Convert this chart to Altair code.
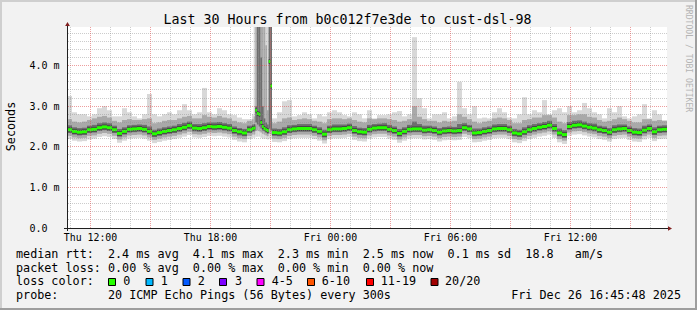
import altair as alt
import pandas as pd

# ---------------- data ----------------
START = "2025-12-25T10:51:00"   # left edge of the plot (Thu)

# bin lengths in minutes: 15-minute bins, with 5-minute bins around the spike
bin_minutes = [15] * 37 + [5] * 12 + [15] * 79

# median rtt per bin (ms)
median = [
    2.42, 2.38, 2.36, 2.37, 2.42, 2.43, 2.47, 2.49, 2.47, 2.42, 2.33, 2.38, 2.43, 2.44, 2.45, 2.43, 2.38, 2.32, 2.35, 2.38, 2.40, 2.42, 2.45, 2.48,
    2.52, 2.46, 2.45, 2.47, 2.50, 2.49, 2.50, 2.48, 2.46, 2.40, 2.37, 2.34, 2.42,
    2.45, 2.46, 2.90, 2.82, 2.80, 2.60, 2.50, 2.45, 2.42, 2.40, 4.10, 3.50,
    2.35, 2.34, 2.37, 2.42, 2.44, 2.45, 2.45,
    2.45, 2.42, 2.38, 2.31, 2.42, 2.44, 2.44, 2.45, 2.47, 2.40, 2.37, 2.36, 2.43, 2.46, 2.47, 2.47, 2.43, 2.40, 2.33, 2.38, 2.43, 2.44, 2.44, 2.41,
    2.42, 2.40, 2.36, 2.39, 2.40, 2.39, 2.40, 2.47, 2.44, 2.34, 2.35, 2.38, 2.40, 2.44, 2.45, 2.45, 2.42, 2.34, 2.32, 2.37, 2.42, 2.45, 2.48, 2.50,
    2.53, 2.45, 2.34, 2.30, 2.50, 2.53, 2.54, 2.51, 2.48, 2.46, 2.42, 2.40, 2.36, 2.42, 2.44, 2.45, 2.40, 2.36, 2.35, 2.41, 2.45, 2.37, 2.42, 2.43,
]
# smoke: highest ping per bin
smoke_max = [
    3.25, 2.85, 2.80, 2.80, 2.75, 2.80, 2.95, 3.00, 2.90, 2.75, 2.75, 2.95, 2.85, 2.75, 2.70, 2.80, 3.30, 2.80, 2.75, 2.80, 2.85, 2.80, 2.90, 3.05,
    2.90, 2.80, 2.85, 3.45, 2.85, 2.80, 2.95, 2.90, 2.80, 2.78, 2.72, 2.68, 2.68,
    2.80, 6.00, 6.00, 6.00, 6.00, 6.00, 6.00, 6.00, 6.00, 6.00, 6.00, 6.00,
    2.70, 2.85, 3.12, 3.15, 2.75, 2.78, 2.85,
    2.80, 2.70, 2.80, 2.75, 2.85, 2.90, 2.85, 2.78, 2.75, 2.85, 2.80, 2.70, 2.90, 2.70, 2.78, 2.78, 2.80, 2.85, 2.88, 2.75, 2.80, 4.70, 3.20, 2.95,
    2.70, 2.80, 2.80, 2.85, 2.70, 2.75, 3.60, 2.95, 2.80, 3.00, 2.70, 2.72, 2.70, 2.85, 2.95, 2.85, 2.72, 2.70, 2.80, 3.22, 2.80, 2.90, 2.85, 3.15,
    2.80, 2.90, 2.95, 2.85, 3.00, 2.85, 2.90, 3.08, 2.95, 2.85, 2.80, 2.70, 2.95, 2.85, 3.00, 2.75, 2.70, 2.75, 2.80, 3.05, 2.70, 2.90, 2.80, 2.65,
]
# upper edge of the middle smoke band
smoke_hi2 = [
    2.68, 2.62, 2.60, 2.62, 2.66, 2.70, 2.74, 2.76, 2.72, 2.64, 2.60, 2.66, 2.68, 2.66, 2.66, 2.68, 2.70, 2.58, 2.60, 2.64, 2.66, 2.66, 2.70, 2.74,
    2.76, 2.70, 2.70, 2.78, 2.74, 2.72, 2.76, 2.72, 2.70, 2.64, 2.60, 2.58, 2.64,
    2.68, 2.75, 6.00, 6.00, 6.00, 6.00, 6.00, 6.00, 4.50, 2.90, 6.00, 6.00,
    2.58, 2.62, 2.70, 2.72, 2.66, 2.68, 2.70,
    2.68, 2.64, 2.62, 2.58, 2.68, 2.70, 2.70, 2.68, 2.70, 2.66, 2.62, 2.60, 2.70, 2.68, 2.70, 2.70, 2.68, 2.66, 2.62, 2.64, 2.68, 3.00, 2.74, 2.68,
    2.64, 2.64, 2.60, 2.64, 2.62, 2.64, 2.80, 2.74, 2.68, 2.62, 2.58, 2.62, 2.64, 2.70, 2.72, 2.70, 2.66, 2.58, 2.58, 2.66, 2.68, 2.72, 2.72, 2.78,
    2.78, 2.72, 2.62, 2.58, 2.78, 2.78, 2.80, 2.80, 2.74, 2.72, 2.66, 2.62, 2.64, 2.68, 2.72, 2.68, 2.64, 2.60, 2.60, 2.68, 2.68, 2.64, 2.66, 2.64,
]
# upper edge of the dark inner smoke band
smoke_hi3 = [
    2.53, 2.48, 2.46, 2.47, 2.52, 2.54, 2.58, 2.60, 2.58, 2.52, 2.44, 2.48, 2.53, 2.54, 2.55, 2.54, 2.50, 2.42, 2.45, 2.48, 2.50, 2.52, 2.56, 2.59,
    2.62, 2.56, 2.56, 2.58, 2.60, 2.60, 2.61, 2.58, 2.56, 2.50, 2.46, 2.44, 2.52,
    2.55, 2.56, 3.00, 6.00, 6.00, 4.20, 3.00, 2.70, 2.60, 2.55, 6.00, 5.00,
    2.45, 2.44, 2.48, 2.53, 2.54, 2.56, 2.56,
    2.56, 2.52, 2.48, 2.42, 2.52, 2.55, 2.55, 2.55, 2.57, 2.51, 2.47, 2.46, 2.54, 2.56, 2.57, 2.58, 2.54, 2.50, 2.44, 2.48, 2.54, 2.62, 2.56, 2.52,
    2.52, 2.50, 2.46, 2.49, 2.50, 2.49, 2.56, 2.58, 2.54, 2.45, 2.45, 2.48, 2.50, 2.55, 2.56, 2.56, 2.52, 2.44, 2.42, 2.48, 2.53, 2.56, 2.58, 2.61,
    2.64, 2.56, 2.45, 2.41, 2.61, 2.64, 2.65, 2.62, 2.58, 2.57, 2.52, 2.50, 2.46, 2.53, 2.55, 2.55, 2.50, 2.46, 2.45, 2.52, 2.55, 2.48, 2.52, 2.53,
]
# lower edge of the dark inner smoke band
smoke_lo3 = [
    2.34, 2.30, 2.28, 2.29, 2.34, 2.35, 2.39, 2.41, 2.39, 2.34, 2.25, 2.30, 2.35, 2.36, 2.37, 2.35, 2.30, 2.24, 2.27, 2.30, 2.32, 2.34, 2.37, 2.40,
    2.44, 2.38, 2.37, 2.39, 2.42, 2.41, 2.42, 2.40, 2.38, 2.32, 2.28, 2.26, 2.34,
    2.37, 2.38, 2.60, 2.55, 2.50, 2.45, 2.40, 2.38, 2.35, 2.32, 2.45, 2.40,
    2.27, 2.26, 2.29, 2.34, 2.36, 2.37, 2.37,
    2.37, 2.34, 2.30, 2.23, 2.34, 2.36, 2.36, 2.37, 2.39, 2.32, 2.29, 2.28, 2.35, 2.38, 2.39, 2.39, 2.35, 2.32, 2.25, 2.30, 2.35, 2.36, 2.36, 2.33,
    2.34, 2.32, 2.28, 2.31, 2.32, 2.31, 2.32, 2.39, 2.36, 2.26, 2.27, 2.30, 2.32, 2.36, 2.37, 2.37, 2.34, 2.26, 2.24, 2.29, 2.34, 2.37, 2.40, 2.42,
    2.45, 2.37, 2.26, 2.22, 2.42, 2.45, 2.46, 2.43, 2.40, 2.38, 2.34, 2.32, 2.28, 2.34, 2.36, 2.37, 2.32, 2.28, 2.27, 2.33, 2.37, 2.29, 2.34, 2.35,
]
# lower edge of the middle smoke band
smoke_lo2 = [
    2.27, 2.23, 2.21, 2.22, 2.27, 2.28, 2.32, 2.34, 2.32, 2.27, 2.18, 2.23, 2.28, 2.29, 2.30, 2.28, 2.23, 2.17, 2.20, 2.23, 2.25, 2.27, 2.30, 2.33,
    2.37, 2.31, 2.30, 2.32, 2.35, 2.34, 2.35, 2.33, 2.31, 2.25, 2.21, 2.19, 2.27,
    2.30, 2.30, 2.40, 2.40, 2.38, 2.35, 2.32, 2.30, 2.28, 2.26, 2.32, 2.30,
    2.20, 2.19, 2.22, 2.27, 2.29, 2.30, 2.30,
    2.30, 2.27, 2.23, 2.16, 2.27, 2.29, 2.29, 2.30, 2.32, 2.25, 2.22, 2.21, 2.28, 2.31, 2.32, 2.32, 2.28, 2.25, 2.18, 2.23, 2.28, 2.29, 2.29, 2.26,
    2.27, 2.25, 2.21, 2.24, 2.25, 2.24, 2.25, 2.32, 2.29, 2.19, 2.20, 2.23, 2.25, 2.29, 2.30, 2.30, 2.27, 2.19, 2.17, 2.22, 2.27, 2.30, 2.33, 2.35,
    2.38, 2.30, 2.19, 2.15, 2.35, 2.38, 2.39, 2.36, 2.33, 2.31, 2.27, 2.25, 2.21, 2.27, 2.29, 2.30, 2.25, 2.21, 2.20, 2.26, 2.30, 2.22, 2.27, 2.28,
]
# smoke: lowest ping per bin
smoke_min = [
    2.19, 2.15, 2.13, 2.14, 2.18, 2.20, 2.24, 2.26, 2.24, 2.19, 2.10, 2.15, 2.20, 2.21, 2.22, 2.20, 2.15, 2.09, 2.12, 2.15, 2.17, 2.19, 2.22, 2.25,
    2.29, 2.23, 2.22, 2.24, 2.27, 2.26, 2.27, 2.25, 2.23, 2.17, 2.13, 2.11, 2.19,
    2.22, 2.22, 2.25, 2.25, 2.25, 2.22, 2.20, 2.20, 2.20, 2.18, 2.20, 2.20,
    2.12, 2.11, 2.14, 2.19, 2.21, 2.22, 2.22,
    2.22, 2.19, 2.15, 2.08, 2.19, 2.21, 2.21, 2.22, 2.24, 2.17, 2.14, 2.13, 2.20, 2.23, 2.24, 2.24, 2.20, 2.17, 2.10, 2.15, 2.20, 2.21, 2.21, 2.18,
    2.19, 2.17, 2.13, 2.16, 2.17, 2.16, 2.17, 2.24, 2.21, 2.11, 2.12, 2.15, 2.17, 2.21, 2.22, 2.22, 2.19, 2.11, 2.09, 2.14, 2.19, 2.22, 2.25, 2.27,
    2.30, 2.22, 2.11, 2.07, 2.27, 2.30, 2.31, 2.28, 2.25, 2.23, 2.19, 2.17, 2.13, 2.19, 2.21, 2.22, 2.17, 2.13, 2.12, 2.18, 2.22, 2.14, 2.19, 2.20,
]

y_tick_values = [0, 1, 2, 3, 4]
loss_labels = ["0", "1", "2", "3", "4-5", "6-10", "11-19", "20/20"]
loss_colors = ["#26ff00", "#00b8ff", "#0059ff", "#7e00ff", "#ff00ff", "#ff5500", "#ff0000", "#a10000"]

title_text = "Last 30 Hours from b0c012f7e3de to cust-dsl-98"
stat_lines = [
    "median rtt:  2.4 ms avg  4.1 ms max  2.3 ms min  2.5 ms now  0.1 ms sd  18.8   am/s",
    "packet loss: 0.00 % avg  0.00 % max  0.00 % min  0.00 % now",
    "loss color:",
    "probe:       20 ICMP Echo Pings (56 Bytes) every 300s",
]
stamp_text = "Fri Dec 26 16:45:48 2025"
side_text = "RRDTOOL / TOBI OETIKER"
y_title = "Seconds"

n = len(median)
assert len(bin_minutes) == n
for arr in (smoke_max, smoke_hi2, smoke_hi3, smoke_lo3, smoke_lo2, smoke_min):
    assert len(arr) == n

# ---------------- layout / style ----------------
W, H = 600, 201
LEFT, TOP = 67, 27
MONO = "DejaVu Sans Mono"
NB = "\u00a0"


def keep_spaces(s):
    return s.replace(" ", NB)


fmt = "%Y-%m-%dT%H:%M:%S"
start = pd.Timestamp(START)
edges = [start]
for m in bin_minutes:
    edges.append(edges[-1] + pd.Timedelta(minutes=m))
bins = pd.DataFrame({
    "t0": [e.strftime(fmt) for e in edges[:-1]],
    "t1": [e.strftime(fmt) for e in edges[1:]],
    "med": median,
    "mn": smoke_min, "lo2": smoke_lo2, "lo3": smoke_lo3,
    "hi3": smoke_hi3, "hi2": smoke_hi2, "mx": smoke_max,
})

xs = alt.Scale(domain=[alt.DateTime(year=2025, month=12, date=25, hours=10, minutes=51),
                       alt.DateTime(year=2025, month=12, date=26, hours=16, minutes=51)])
ys = alt.Scale(domain=[0, 4.95], nice=False, zero=False)

x_axis = alt.Axis(
    values=[alt.DateTime(year=2025, month=12, date=25, hours=12),
            alt.DateTime(year=2025, month=12, date=25, hours=18),
            alt.DateTime(year=2025, month=12, date=26, hours=0),
            alt.DateTime(year=2025, month=12, date=26, hours=6),
            alt.DateTime(year=2025, month=12, date=26, hours=12)],
    format="%a %H:%M", labelFont=MONO, labelFontSize=9.9, labelColor="black",
    labelPadding=4, labelBaseline="top", ticks=False, domain=False, grid=False, title=None,
    labelFlush=False, labelOverlap=False,
)
y_axis = alt.Axis(
    values=y_tick_values,
    labelExpr="datum.value == 0 ? '0.0' : format(datum.value, '.1f') + ' m'",
    labelAlign="left", labelPadding=38, labelBaseline="middle",
    labelFont=MONO, labelFontSize=10, labelColor="black",
    ticks=False, domain=False, grid=False, title=None,
)


def band(lo, hi, color, first=False):
    if first:
        xe = alt.X("t0:T", scale=xs, axis=x_axis, title=None)
        ye = alt.Y(f"{lo}:Q", scale=ys, axis=y_axis, title=None)
    else:
        xe = alt.X("t0:T", scale=xs, title=None)
        ye = alt.Y(f"{lo}:Q", scale=ys, title=None)
    return alt.Chart(bins).mark_rect(color=color, opacity=1, clip=True).encode(
        x=xe, x2="t1:T", y=ye, y2=f"{hi}:Q")


smoke = [
    band("mn", "mx", "#d8d8d8", first=True),
    band("lo2", "hi2", "#a9a9a9"),
    band("lo3", "hi3", "#6e6e6e"),
]


def median_bar(color, half):
    return alt.Chart(bins).mark_rect(
        color=color, opacity=1, clip=True, yOffset=-half, y2Offset=half
    ).encode(
        x=alt.X("t0:T", scale=xs, title=None), x2="t1:T",
        y=alt.Y("med:Q", scale=ys, title=None), y2="med:Q",
    )


med_core = median_bar("#474747", 2.5)
med_green = median_bar(loss_colors[0], 1.5)

# grid
hours = pd.date_range("2025-12-25T11:00:00", "2025-12-26T16:00:00", freq="h")
vgrid = pd.DataFrame({"t": hours.strftime(fmt), "major": [h.hour % 3 == 0 for h in hours]})
yv = [round(0.2 * k, 1) for k in range(1, 25)]
hgrid = pd.DataFrame({"v": yv, "major": [abs(v - round(v)) < 1e-9 for v in yv]})

GRID_MINOR = "rgba(143,143,143,0.45)"
GRID_MAJOR = "rgba(222,79,79,0.55)"
SNAP = {"expr": "round(scale('y', datum.v) - 0.5) + 0.5 - scale('y', datum.v)"}


def vrule(major):
    return alt.Chart(vgrid).transform_filter("datum.major" if major else "!datum.major").mark_rule(
        color=GRID_MAJOR if major else GRID_MINOR, strokeDash=[1, 1], strokeWidth=1, xOffset=0.5
    ).encode(x=alt.X("t:T", scale=xs, title=None))


def hrule(major):
    return alt.Chart(hgrid).transform_filter("datum.major" if major else "!datum.major").mark_rule(
        color=GRID_MAJOR if major else GRID_MINOR, strokeDash=[1, 1], strokeWidth=1, yOffset=SNAP
    ).encode(y=alt.Y("v:Q", scale=ys, title=None))


one = pd.DataFrame({"a": [0]})
AXIS_C = "#1f1f1f"
ARROW_C = "#801f1f"

y_axis_line = alt.Chart(one).mark_rule(color=AXIS_C, strokeWidth=1).encode(
    x=alt.value(0.5), y=alt.value(-3), y2=alt.value(H + 3))
x_axis_line = alt.Chart(one).mark_rule(color=AXIS_C, strokeWidth=1).encode(
    x=alt.value(-3), x2=alt.value(W + 2), y=alt.value(H + 0.5))
arrow_up = alt.Chart(one).mark_point(shape="triangle-up", filled=True, color=ARROW_C, size=22, opacity=1).encode(
    x=alt.value(0.5), y=alt.value(-3))
arrow_right = alt.Chart(one).mark_point(shape="triangle-right", filled=True, color=ARROW_C, size=22, opacity=1).encode(
    x=alt.value(W + 3), y=alt.value(H + 0.5))

# frame of the whole image
SHADE_A = "#cfcfcf"
SHADE_B = "#9e9e9e"
fr_top = alt.Chart(one).mark_rule(color=SHADE_A, strokeWidth=2).encode(
    x=alt.value(-LEFT), x2=alt.value(697 - LEFT), y=alt.value(-TOP + 1))
fr_left = alt.Chart(one).mark_rule(color=SHADE_A, strokeWidth=2).encode(
    x=alt.value(-LEFT + 1), y=alt.value(-TOP), y2=alt.value(310 - TOP))
fr_bottom = alt.Chart(one).mark_rule(color=SHADE_B, strokeWidth=2).encode(
    x=alt.value(-LEFT), x2=alt.value(697 - LEFT), y=alt.value(310 - TOP - 1))
fr_right = alt.Chart(one).mark_rule(color=SHADE_B, strokeWidth=2).encode(
    x=alt.value(697 - LEFT - 1), y=alt.value(-TOP), y2=alt.value(310 - TOP))


def txt(s, x, y, size, align="left", angle=0, color="black", baseline="alphabetic"):
    return alt.Chart(one).mark_text(
        text=keep_spaces(s), font=MONO, fontSize=size, align=align, baseline=baseline,
        angle=angle, color=color,
    ).encode(x=alt.value(x - LEFT), y=alt.value(y - TOP))


texts = [
    txt(title_text, 347.5, 24, 13.3, align="center"),
    txt(y_title, 11, 126.5, 11.75, align="center", angle=270, baseline="middle"),
    txt(side_text, 688, 5, 8.1, align="left", angle=90, color="#b4b4b4", baseline="middle"),
    txt(stamp_text, 681, 299, 11.75, align="right"),
]
for s, yb in zip(stat_lines, [258, 271.7, 285.4, 299]):
    texts.append(txt(s, 16, yb, 11.75))

# loss colour legend boxes and labels
box_cx = [112, 149.5, 186.5, 223, 260.5, 311, 370, 434.5]
lab_x = [123.3, 160.7, 197.7, 235, 271.7, 321.7, 380.7, 445]
leg = pd.DataFrame({"label": loss_labels, "color": loss_colors,
                    "bx": [v - LEFT for v in box_cx], "lx": [v - LEFT for v in lab_x]})
leg_boxes = alt.Chart(leg).mark_square(size=49, opacity=1, stroke="black", strokeWidth=1, filled=True).encode(
    x=alt.X("bx:Q", scale=None), y=alt.value(282 - TOP),
    fill=alt.Fill("color:N", scale=None))
leg_labels = alt.Chart(leg).mark_text(font=MONO, fontSize=11.75, align="left", baseline="alphabetic", color="black").encode(
    x=alt.X("lx:Q", scale=None), y=alt.value(285.4 - TOP), text="label:N")

chart = alt.layer(
    *smoke, med_core, med_green,
    vrule(False), hrule(False), vrule(True), hrule(True),
    x_axis_line, y_axis_line, arrow_up, arrow_right,
    fr_top, fr_left, fr_bottom, fr_right,
    *texts, leg_boxes, leg_labels,
).properties(
    width=W, height=H, background="#f2f2f2",
    padding={"left": LEFT, "top": TOP, "right": 697 - LEFT - W, "bottom": 310 - TOP - H},
    autosize=alt.AutoSizeParams(type="none"),
).configure_view(fill="white", stroke=None)

chart.save("out.html", embed_options={"renderer": "svg", "actions": False})
